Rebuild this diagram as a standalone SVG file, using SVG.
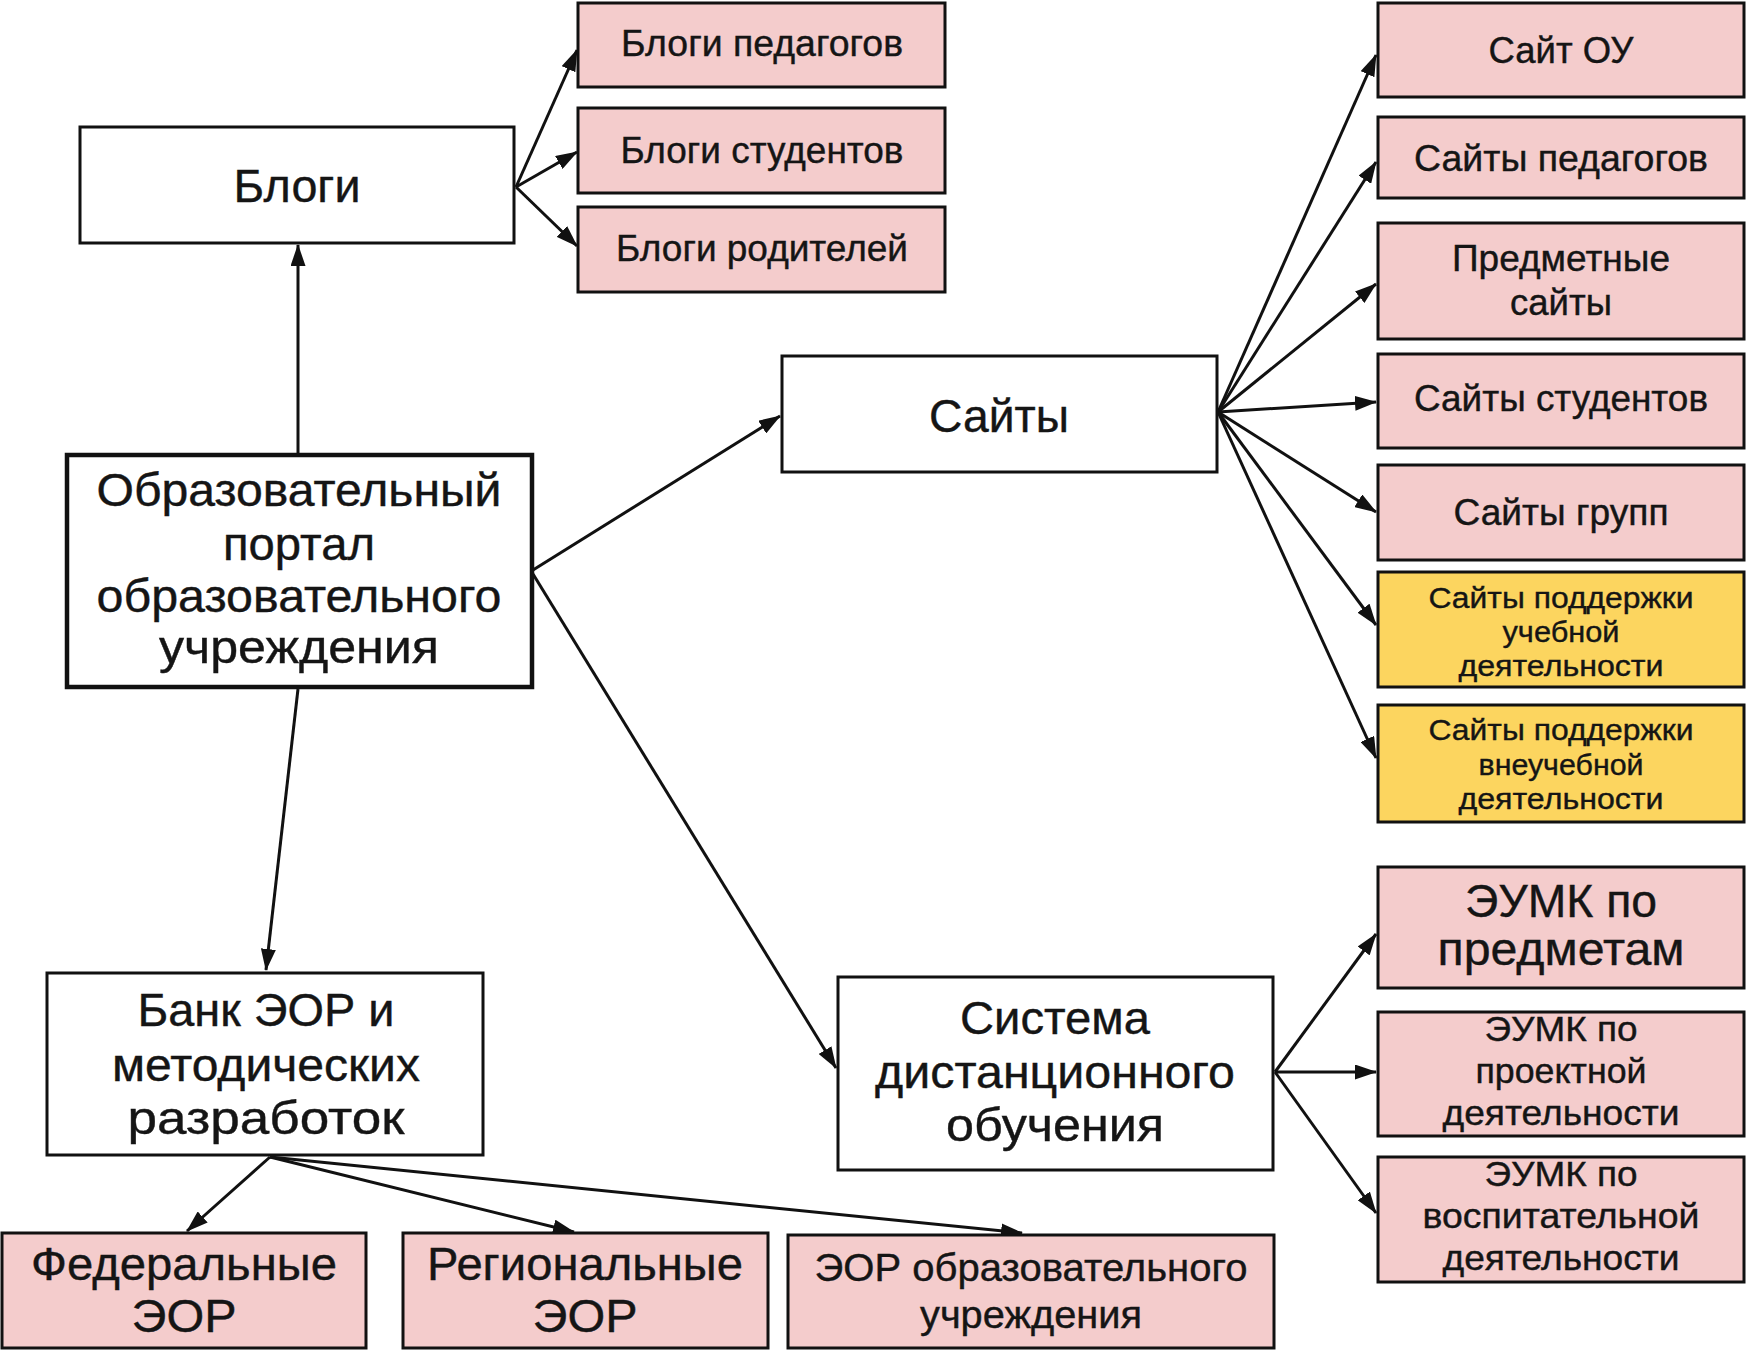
<svg xmlns="http://www.w3.org/2000/svg" width="1748" height="1354" viewBox="0 0 1748 1354">
<style>
.box{stroke:#111;stroke-width:3}
.thick{stroke-width:4.5}
.white{fill:#fff}
.pink{fill:#f4cccc}
.yellow{fill:#fcd55f}
text{font-family:"Liberation Sans",Arial,sans-serif;fill:#151515;text-anchor:middle;stroke:#151515;stroke-width:0.4}
.c line{stroke:#111;stroke-width:3;marker-end:url(#ah)}
</style>
<defs>
<marker id="ah" markerUnits="userSpaceOnUse" markerWidth="22" markerHeight="15" refX="21" refY="7.5" orient="auto">
<path d="M0,0 L22,7.5 L0,15 z" fill="#111"/>
</marker>
</defs>
<rect width="1748" height="1354" fill="#fff"/>

<g id="connectors" class="c">
<line x1="298" y1="453" x2="298" y2="245"/>
<line x1="516" y1="187" x2="577" y2="50"/>
<line x1="516" y1="187" x2="577" y2="152"/>
<line x1="516" y1="187" x2="577" y2="246"/>
<line x1="533" y1="570" x2="780" y2="416"/>
<line x1="533" y1="574" x2="836" y2="1068"/>
<line x1="298" y1="689" x2="266" y2="970"/>
<line x1="1218" y1="412" x2="1376" y2="55"/>
<line x1="1218" y1="412" x2="1376" y2="162"/>
<line x1="1218" y1="412" x2="1376" y2="284"/>
<line x1="1218" y1="412" x2="1376" y2="402"/>
<line x1="1218" y1="412" x2="1376" y2="512"/>
<line x1="1218" y1="412" x2="1376" y2="625"/>
<line x1="1218" y1="412" x2="1376" y2="758"/>
<line x1="1275" y1="1072" x2="1376" y2="934"/>
<line x1="1275" y1="1072" x2="1376" y2="1072"/>
<line x1="1275" y1="1072" x2="1376" y2="1213"/>
<line x1="270" y1="1157" x2="187" y2="1231"/>
<line x1="270" y1="1157" x2="574" y2="1232"/>
<line x1="270" y1="1157" x2="1022" y2="1233"/>
</g>

<g id="portal">
<rect class="box thick white" x="67" y="455" width="465" height="232"/>
<text font-size="46" x="299" y="506" textLength="405" lengthAdjust="spacingAndGlyphs">Образовательный</text>
<text font-size="46" x="299" y="560" textLength="152" lengthAdjust="spacingAndGlyphs">портал</text>
<text font-size="46" x="299" y="612" textLength="405" lengthAdjust="spacingAndGlyphs">образовательного</text>
<text font-size="46" x="299" y="663" textLength="280" lengthAdjust="spacingAndGlyphs">учреждения</text>
</g>

<g id="blogs">
<rect class="box white" x="80" y="127" width="434" height="116"/>
<text font-size="47" x="297" y="202" textLength="127" lengthAdjust="spacingAndGlyphs">Блоги</text>
</g>
<g id="blogs-teachers">
<rect class="box pink" x="578" y="3" width="367" height="84"/>
<text font-size="36" x="762" y="56" textLength="282" lengthAdjust="spacingAndGlyphs">Блоги педагогов</text>
</g>
<g id="blogs-students">
<rect class="box pink" x="578" y="108" width="367" height="85"/>
<text font-size="36" x="762" y="163" textLength="283" lengthAdjust="spacingAndGlyphs">Блоги студентов</text>
</g>
<g id="blogs-parents">
<rect class="box pink" x="578" y="207" width="367" height="85"/>
<text font-size="36" x="762" y="261" textLength="292" lengthAdjust="spacingAndGlyphs">Блоги родителей</text>
</g>

<g id="sites">
<rect class="box white" x="782" y="356" width="435" height="116"/>
<text font-size="47" x="999" y="432" textLength="140" lengthAdjust="spacingAndGlyphs">Сайты</text>
</g>
<g id="site-ou">
<rect class="box pink" x="1378" y="3" width="366" height="94"/>
<text font-size="36" x="1561" y="63" textLength="145" lengthAdjust="spacingAndGlyphs">Сайт ОУ</text>
</g>
<g id="sites-teachers">
<rect class="box pink" x="1378" y="117" width="366" height="81"/>
<text font-size="36" x="1561" y="171" textLength="294" lengthAdjust="spacingAndGlyphs">Сайты педагогов</text>
</g>
<g id="subject-sites">
<rect class="box pink" x="1378" y="223" width="366" height="116"/>
<text font-size="36" x="1561" y="271" textLength="218" lengthAdjust="spacingAndGlyphs">Предметные</text>
<text font-size="36" x="1561" y="315" textLength="102" lengthAdjust="spacingAndGlyphs">сайты</text>
</g>
<g id="sites-students">
<rect class="box pink" x="1378" y="354" width="366" height="94"/>
<text font-size="36" x="1561" y="411" textLength="294" lengthAdjust="spacingAndGlyphs">Сайты студентов</text>
</g>
<g id="sites-groups">
<rect class="box pink" x="1378" y="465" width="366" height="95"/>
<text font-size="36" x="1561" y="525" textLength="215" lengthAdjust="spacingAndGlyphs">Сайты групп</text>
</g>
<g id="sites-study">
<rect class="box yellow" x="1378" y="572" width="366" height="115"/>
<text font-size="30" x="1561" y="608" textLength="265" lengthAdjust="spacingAndGlyphs">Сайты поддержки</text>
<text font-size="30" x="1561" y="642" textLength="117" lengthAdjust="spacingAndGlyphs">учебной</text>
<text font-size="30" x="1561" y="676" textLength="205" lengthAdjust="spacingAndGlyphs">деятельности</text>
</g>
<g id="sites-extra">
<rect class="box yellow" x="1378" y="705" width="366" height="117"/>
<text font-size="30" x="1561" y="740" textLength="265" lengthAdjust="spacingAndGlyphs">Сайты поддержки</text>
<text font-size="30" x="1561" y="775" textLength="165" lengthAdjust="spacingAndGlyphs">внеучебной</text>
<text font-size="30" x="1561" y="809" textLength="205" lengthAdjust="spacingAndGlyphs">деятельности</text>
</g>

<g id="distance">
<rect class="box white" x="838" y="977" width="435" height="193"/>
<text font-size="46" x="1055" y="1034" textLength="190" lengthAdjust="spacingAndGlyphs">Система</text>
<text font-size="46" x="1055" y="1088" textLength="360" lengthAdjust="spacingAndGlyphs">дистанционного</text>
<text font-size="46" x="1055" y="1141" textLength="218" lengthAdjust="spacingAndGlyphs">обучения</text>
</g>
<g id="eumk-subjects">
<rect class="box pink" x="1378" y="867" width="366" height="121"/>
<text font-size="46" x="1561" y="917" textLength="192" lengthAdjust="spacingAndGlyphs">ЭУМК по</text>
<text font-size="46" x="1561" y="965" textLength="247" lengthAdjust="spacingAndGlyphs">предметам</text>
</g>
<g id="eumk-project">
<rect class="box pink" x="1378" y="1012" width="366" height="124"/>
<text font-size="35" x="1561" y="1041" textLength="153" lengthAdjust="spacingAndGlyphs">ЭУМК по</text>
<text font-size="35" x="1561" y="1083" textLength="171" lengthAdjust="spacingAndGlyphs">проектной</text>
<text font-size="35" x="1561" y="1125" textLength="237" lengthAdjust="spacingAndGlyphs">деятельности</text>
</g>
<g id="eumk-upbringing">
<rect class="box pink" x="1378" y="1157" width="366" height="125"/>
<text font-size="35" x="1561" y="1186" textLength="153" lengthAdjust="spacingAndGlyphs">ЭУМК по</text>
<text font-size="35" x="1561" y="1228" textLength="277" lengthAdjust="spacingAndGlyphs">воспитательной</text>
<text font-size="35" x="1561" y="1270" textLength="237" lengthAdjust="spacingAndGlyphs">деятельности</text>
</g>

<g id="bank">
<rect class="box white" x="47" y="973" width="436" height="182"/>
<text font-size="46" x="266" y="1026" textLength="257" lengthAdjust="spacingAndGlyphs">Банк ЭОР и</text>
<text font-size="46" x="266" y="1081" textLength="308" lengthAdjust="spacingAndGlyphs">методических</text>
<text font-size="46" x="266" y="1134" textLength="277" lengthAdjust="spacingAndGlyphs">разработок</text>
</g>
<g id="federal">
<rect class="box pink" x="2" y="1233" width="364" height="115"/>
<text font-size="46" x="184" y="1280" textLength="306" lengthAdjust="spacingAndGlyphs">Федеральные</text>
<text font-size="46" x="184" y="1332" textLength="105" lengthAdjust="spacingAndGlyphs">ЭОР</text>
</g>
<g id="regional">
<rect class="box pink" x="403" y="1233" width="365" height="115"/>
<text font-size="46" x="585" y="1280" textLength="316" lengthAdjust="spacingAndGlyphs">Региональные</text>
<text font-size="46" x="585" y="1332" textLength="105" lengthAdjust="spacingAndGlyphs">ЭОР</text>
</g>
<g id="school-eor">
<rect class="box pink" x="788" y="1235" width="486" height="113"/>
<text font-size="38" x="1031" y="1281" textLength="433" lengthAdjust="spacingAndGlyphs">ЭОР образовательного</text>
<text font-size="38" x="1031" y="1328" textLength="222" lengthAdjust="spacingAndGlyphs">учреждения</text>
</g>
</svg>
